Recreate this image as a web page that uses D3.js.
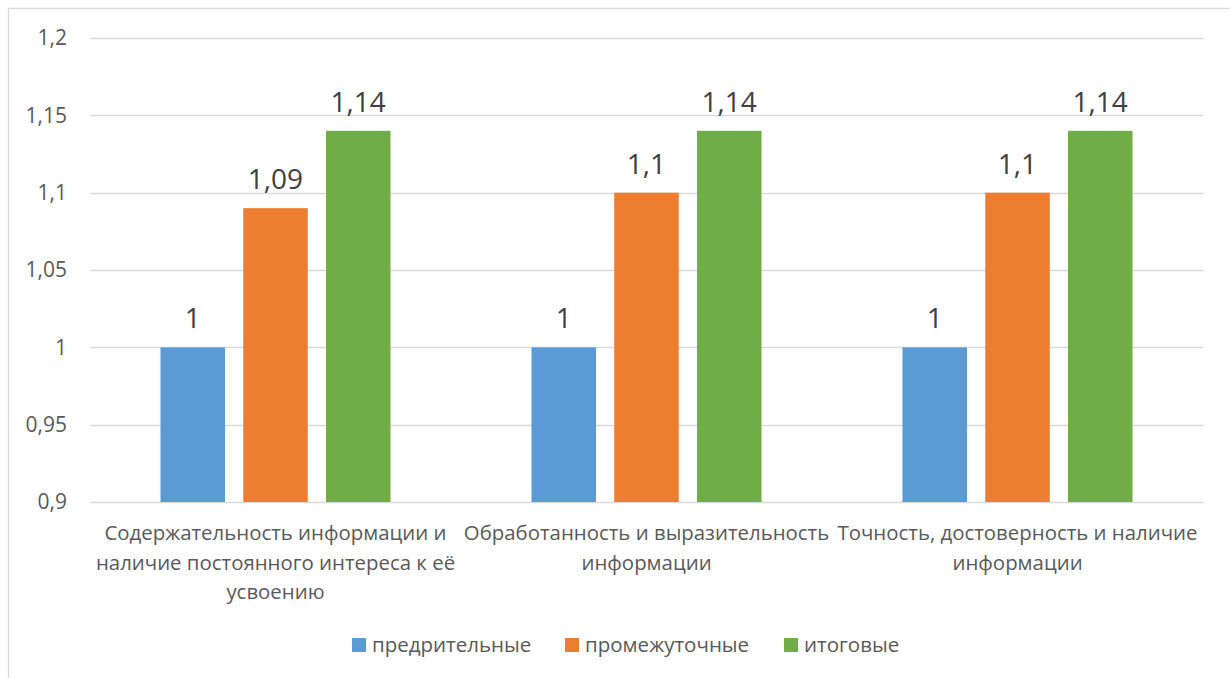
<!DOCTYPE html>
<html>
<head>
<meta charset="utf-8">
<script src="https://cdn.jsdelivr.net/npm/d3@7"></script>
<style>
  body { margin: 0; background: #fff; }
  text { font-family: "Open Sans", "Noto Sans", sans-serif; }
</style>
</head>
<body>
<div id="chart"></div>
<script>
// data
var categories = [
    "Содержательность информации и наличие постоянного интереса к её усвоению",
    "Обработанность и выразительность информации",
    "Точность, достоверность и наличие информации"
];
var categoryLines = [
    ["Содержательность информации и", "наличие постоянного интереса к её", "усвоению"],
    ["Обработанность и выразительность", "информации"],
    ["Точность, достоверность и наличие", "информации"]
];
var seriesNames = ["предрительные", "промежуточные", "итоговые"];
var seriesColors = ["#5b9bd5", "#ed7d31", "#70ad47"];
var predValues = [1, 1, 1];
var promValues = [1.09, 1.1, 1.1];
var itogValues = [1.14, 1.14, 1.14];
var yTicks = [0.9, 0.95, 1, 1.05, 1.1, 1.15, 1.2];

var allValues = [predValues, promValues, itogValues];

var W = 1230, H = 678;
var margin = {top: 38, right: 27, bottom: 176, left: 90};
var width = W - margin.left - margin.right;
var height = H - margin.top - margin.bottom;

var svg = d3.select("#chart").append("svg")
    .attr("width", W)
    .attr("height", H);

// outer chart border (only top & left show in the frame)
svg.append("rect")
    .attr("x", 8.5).attr("y", 8.5)
    .attr("width", W + 20).attr("height", H + 20)
    .attr("fill", "none")
    .attr("stroke", "#d9d9d9")
    .attr("stroke-width", 1.3);

var g = svg.append("g")
    .attr("transform", "translate(" + margin.left + "," + margin.top + ")");

var x0 = d3.scaleBand().domain(d3.range(categories.length)).range([0, width]);
var x1 = d3.scaleBand().domain(d3.range(seriesNames.length)).range([0, x0.bandwidth() * 0.62]).paddingInner(0.22);
var y = d3.scaleLinear().domain([0.9, 1.2]).range([height, 0]);

var fmt = function(v) { return String(+v.toFixed(2)).replace(".", ","); };

// gridlines
g.append("g")
    .selectAll("line")
    .data(yTicks)
    .enter().append("line")
    .attr("x1", 0).attr("x2", width)
    .attr("y1", function(d) { return Math.round(y(d)) + 0.5; })
    .attr("y2", function(d) { return Math.round(y(d)) + 0.5; })
    .attr("stroke", "#d9d9d9")
    .attr("stroke-width", 1.3);

// y axis labels
var yAxis = g.append("g")
    .call(d3.axisLeft(y).tickValues(yTicks).tickFormat(fmt).tickSize(0).tickPadding(23));
yAxis.select(".domain").remove();
yAxis.selectAll("text")
    .attr("font-family", "'Open Sans', sans-serif")
    .attr("font-size", 21)
    .attr("fill", "#595959");

// bars
var groups = g.selectAll(".grp")
    .data(categories)
    .enter().append("g")
    .attr("class", "grp")
    .attr("transform", function(d, i) {
        return "translate(" + (x0(i) + (x0.bandwidth() - x1.range()[1]) / 2) + ",0)";
    });

groups.selectAll("rect")
    .data(function(d, i) { return allValues.map(function(s, k) { return {k: k, v: s[i]}; }); })
    .enter().append("rect")
    .attr("x", function(d) { return x1(d.k); })
    .attr("width", x1.bandwidth())
    .attr("y", function(d) { return y(d.v); })
    .attr("height", function(d) { return height - y(d.v); })
    .attr("fill", function(d) { return seriesColors[d.k]; });

groups.selectAll(".val")
    .data(function(d, i) { return allValues.map(function(s, k) { return {k: k, v: s[i]}; }); })
    .enter().append("text")
    .attr("class", "val")
    .attr("x", function(d) { return x1(d.k) + x1.bandwidth() / 2; })
    .attr("y", function(d) { return y(d.v) - 19; })
    .attr("text-anchor", "middle")
    .attr("font-size", 28)
    .attr("fill", "#404040")
    .text(function(d) { return fmt(d.v); });

// category labels
var cat = g.selectAll(".cat")
    .data(categoryLines)
    .enter().append("text")
    .attr("class", "cat")
    .attr("text-anchor", "middle")
    .attr("font-size", 20.4)
    .attr("fill", "#595959")
    .attr("transform", function(d, i) { return "translate(" + (x0(i) + x0.bandwidth() / 2) + "," + (height + 38) + ")"; });
cat.selectAll("tspan")
    .data(function(d) { return d; })
    .enter().append("tspan")
    .attr("x", 0)
    .attr("y", function(d, j) { return j * 29.5; })
    .text(function(d) { return d; });

// legend
var legend = svg.append("g").attr("transform", "translate(0,645)");
var legX = [352, 565, 784];
var items = legend.selectAll(".leg")
    .data(seriesNames)
    .enter().append("g")
    .attr("transform", function(d, i) { return "translate(" + legX[i] + ",0)"; });
items.append("rect")
    .attr("x", 0).attr("y", -7)
    .attr("width", 14).attr("height", 14)
    .attr("fill", function(d, i) { return seriesColors[i]; });
items.append("text")
    .attr("x", 20).attr("y", 0)
    .attr("dy", "0.35em")
    .attr("font-size", 20.5)
    .attr("fill", "#595959")
    .text(function(d) { return d; });
</script>
</body>
</html>
